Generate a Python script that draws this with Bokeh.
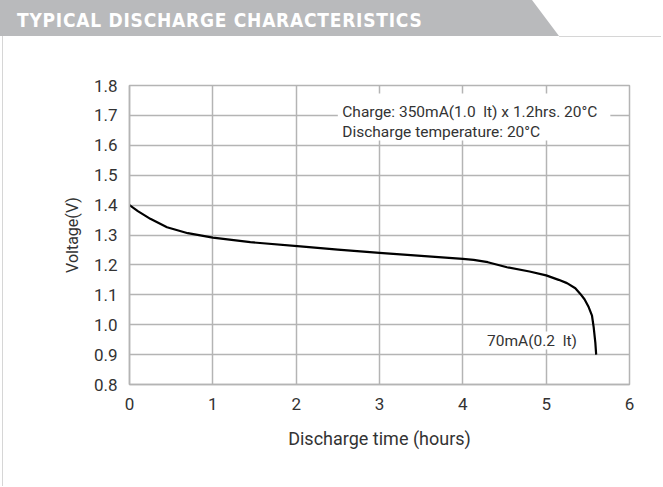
from bokeh.plotting import figure
from bokeh.models import (Label, BoxAnnotation, FixedTicker,
                          NumeralTickFormatter, Div)
from bokeh.layouts import column
from bokeh.embed import file_html
from bokeh.resources import INLINE

# ---- data ----
time_h = [0.0, 0.1, 0.25, 0.45, 0.7, 1.0, 1.45, 2.05, 2.5, 3.0, 3.5, 4.0,
          4.13, 4.3, 4.53, 4.8, 5.0, 5.15, 5.25, 5.35, 5.41, 5.46, 5.51,
          5.55, 5.57, 5.59, 5.60]
voltage = [1.40, 1.380, 1.354, 1.326, 1.306, 1.291, 1.276, 1.262, 1.251,
           1.240, 1.230, 1.220, 1.217, 1.209, 1.192, 1.178, 1.165, 1.150,
           1.139, 1.122, 1.103, 1.085, 1.059, 1.030, 0.992, 0.940, 0.900]
x_ticks = [0, 1, 2, 3, 4, 5, 6]
y_ticks = [0.8, 0.9, 1.0, 1.1, 1.2, 1.3, 1.4, 1.5, 1.6, 1.7, 1.8]

title_text = "TYPICAL DISCHARGE CHARACTERISTICS"
note_line1 = "Charge: 350mA(1.0\u00a0 lt) x 1.2hrs. 20°C"
note_line2 = "Discharge temperature: 20°C"
curve_label = "70mA(0.2\u00a0 lt)"
x_title = "Discharge time (hours)"
y_title = "Voltage(V)"

FONT = "Roboto"
TXT = "#333333"
GRID = "#b4b4b4"

W = 661
HEADER_H = 37
FIG_H = 449

header_html = f"""
<div style="position:relative;width:{W}px;height:{HEADER_H}px;overflow:hidden;background:white;margin:0;padding:0;">
  <div style="position:absolute;left:0;top:0;width:560px;height:36px;background:#b9babc;
              clip-path:polygon(0 0,532px 0,559px 36px,0 36px);"></div>
  <div style="position:absolute;left:559px;top:36px;width:{W - 559}px;height:1px;background:#d6d6d6;"></div>
  <div style="position:absolute;left:2px;top:36px;width:1px;height:1px;background:#d6d6d6;"></div>
  <div style="position:absolute;left:17px;top:11px;white-space:nowrap;color:white;
              font-family:'DejaVu Sans Condensed',sans-serif;letter-spacing:0.75px;
              font-weight:bold;font-size:19px;line-height:19px;">{title_text}</div>
</div>
"""
header = Div(text=header_html, width=W, height=HEADER_H, margin=0)

p = figure(width=W, height=FIG_H, x_range=(0, 6), y_range=(0.8, 1.8),
           output_backend="svg", toolbar_location=None, margin=0,
           min_border_left=129, min_border_right=W - 629,
           min_border_top=85 - HEADER_H,
           min_border_bottom=FIG_H - (384 - HEADER_H))
p.background_fill_color = "white"
p.border_fill_color = None
p.styles = {"background": "linear-gradient(to right, white 2px, #d6d6d6 2px, "
                          "#d6d6d6 3px, white 3px)"}
p.outline_line_color = GRID
p.outline_line_width = 1.5

# axes and grid
for ax in (p.xaxis[0], p.yaxis[0]):
    ax.axis_line_color = GRID
    ax.axis_line_width = 1.5
    ax.major_tick_line_color = None
    ax.minor_tick_line_color = None
    ax.major_label_text_font = FONT
    ax.major_label_text_font_size = "17px"
    ax.major_label_text_color = TXT
    ax.axis_label_text_font = FONT
    ax.axis_label_text_font_style = "normal"
    ax.axis_label_text_color = TXT

p.xaxis.axis_label_text_font_size = "18px"
p.yaxis.axis_label_text_font_size = "16px"
p.xaxis.ticker = FixedTicker(ticks=x_ticks)
p.yaxis.ticker = FixedTicker(ticks=y_ticks)
p.yaxis.formatter = NumeralTickFormatter(format="0.0")
p.xaxis.axis_label = x_title
p.yaxis.axis_label = y_title
p.xaxis.major_label_standoff = 7
p.xaxis.axis_label_standoff = 15
p.yaxis.major_label_standoff = 6
p.yaxis.axis_label_standoff = 9

p.xgrid.ticker = FixedTicker(ticks=x_ticks)
p.ygrid.ticker = FixedTicker(ticks=y_ticks)
for g in (p.xgrid[0], p.ygrid[0]):
    g.grid_line_color = GRID
    g.grid_line_width = 1.5

# annotation box + texts
p.add_layout(BoxAnnotation(left=2.50, right=5.77, bottom=1.616, top=1.773,
                           fill_color="white", fill_alpha=1, line_color=None,
                           level="underlay"))
p.add_layout(Label(x=2.553, y=1.71, text=note_line1, text_font=FONT,
                   text_font_size="15.5px", text_color=TXT,
                   text_baseline="middle", text_align="left"))
p.add_layout(Label(x=2.553, y=1.646, text=note_line2, text_font=FONT,
                   text_font_size="15.5px", text_color=TXT,
                   text_baseline="middle", text_align="left"))

p.line(time_h, voltage, line_color="black", line_width=2.2, line_join="round")

p.add_layout(Label(x=4.29, y=0.947, text=curve_label, text_font=FONT,
                   text_font_size="15.5px", text_color=TXT,
                   text_baseline="middle", text_align="left",
                   background_fill_color="white", background_fill_alpha=1))

layout = column(header, p, spacing=0, margin=0)
open("out.html", "w").write(file_html(layout, INLINE))
